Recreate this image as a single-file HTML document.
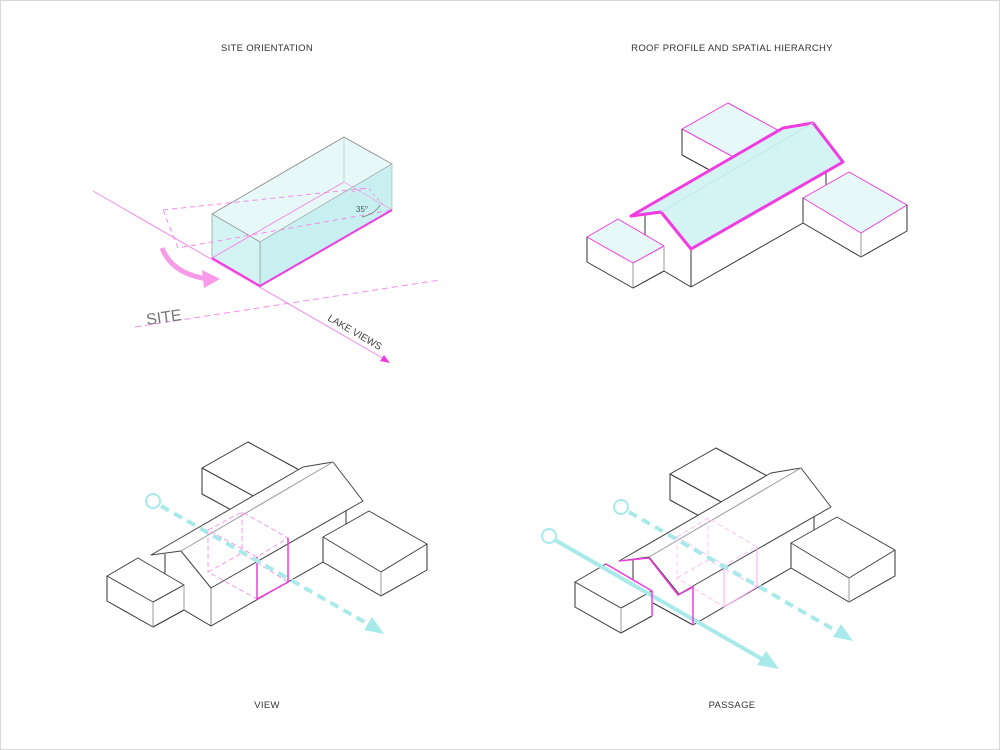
<!DOCTYPE html>
<html><head><meta charset="utf-8"><style>
html,body{margin:0;padding:0;background:#fff}
svg{display:block}
text{font-family:"Liberation Sans",sans-serif}
</style></head><body>
<svg width="1000" height="750" viewBox="0 0 1000 750" xmlns="http://www.w3.org/2000/svg">
<rect x="0.5" y="0.5" width="999" height="749" fill="#fff" stroke="#d8d8d8"/>
<g font-size="9.5" fill="#333" text-anchor="middle" letter-spacing="0.3">
<text x="267" y="51">SITE ORIENTATION</text>
<text x="732" y="51">ROOF PROFILE AND SPATIAL HIERARCHY</text>
<text x="267" y="708">VIEW</text>
<text x="732" y="708">PASSAGE</text>
</g>

<!-- TOP LEFT -->
<g>
<line x1="93" y1="191" x2="386" y2="360" stroke="#f58ce6" stroke-width="1"/>
<polygon points="390,363 380,361 384,355" fill="#f03ce0"/>
<line x1="135" y1="327" x2="440" y2="280" stroke="#f58ce6" stroke-width="1" stroke-dasharray="6,4"/>
<polygon points="212,214 344,137 392,164 260,242" fill="#e6f8f8" stroke="#888" stroke-width="0.8"/>
<polygon points="260,242 392,164 392,210 260,286" fill="#c8f0f0" stroke="#aaa" stroke-width="0.6"/>
<polygon points="212,214 260,242 260,286 212,258" fill="#d4f4f4" stroke="#888" stroke-width="0.6"/>
<line x1="344" y1="137" x2="344" y2="182" stroke="#bbb" stroke-width="0.6"/>
<line x1="212" y1="258" x2="344" y2="182" stroke="#f58ce6" stroke-width="1"/>
<line x1="344" y1="182" x2="392" y2="210" stroke="#f58ce6" stroke-width="0.6"/>
<polyline points="163,210 368,188" fill="none" stroke="#f58ce6" stroke-dasharray="5,4"/>
<polyline points="163,210 178,248 392,210" fill="none" stroke="#f58ce6" stroke-dasharray="5,4"/>
<polyline points="352,192 368,188 384,206" fill="none" stroke="#f58ce6" stroke-dasharray="3,3" stroke-width="0.8"/>
<polyline points="212,258 260,286 392,210" fill="none" stroke="#f03ce0" stroke-width="2"/>
<path d="M362,217 Q375,214 380,205" fill="none" stroke="#666" stroke-width="0.7"/>
<text x="356" y="212" font-size="8" fill="#555">35°</text>
<path d="M162,248 Q172,274 208,279" fill="none" stroke="#f79be8" stroke-width="5"/>
<polygon points="220,279 202,270 204,288" fill="#f79be8"/>
<text x="147" y="325" font-size="16" fill="#777" transform="rotate(-8 147 325)">SITE</text>
<text x="327" y="320" font-size="10" fill="#444" transform="rotate(30 327 320)">LAKE VIEWS</text>
</g>

<!-- TOP RIGHT -->
<g stroke-linejoin="round">
<polygon points="682,129 737,159 737,185 682,155" fill="#fff"/>
<polygon points="682,129 728,103 783,133 737,159" fill="#e6f8f8" stroke="#f03ce0" stroke-width="1"/>
<polyline points="682,129 682,155 737,185" fill="none" stroke="#333"/>
<polygon points="645,214 661,212 691,249 691,287 645,262" fill="#fff"/>
<polygon points="691,249 826,172 826,245 691,287" fill="#fff"/>
<line x1="645" y1="215" x2="645" y2="240" stroke="#333"/>
<line x1="691" y1="249" x2="691" y2="287" stroke="#333"/>
<line x1="691" y1="287" x2="803" y2="223" stroke="#333"/>
<line x1="826" y1="172" x2="826" y2="186" stroke="#333"/>
<polygon points="631,216 661,212 691,249 843,162 813,123 783,128" fill="#d4f4f4" stroke="#f03ce0" stroke-width="3"/>
<line x1="661" y1="212" x2="813" y2="123" stroke="#bfeaea"/>
<polygon points="587,237 633,263 633,288 587,262" fill="#fff"/>
<polygon points="633,263 664,246 664,271 633,288" fill="#fff"/>
<polygon points="587,237 618,219 664,246 633,263" fill="#e6f8f8" stroke="#f03ce0"/>
<polyline points="587,237 587,262 633,288 664,271 691,287" fill="none" stroke="#333"/>
<line x1="633" y1="263" x2="633" y2="288" stroke="#999"/>
<line x1="664" y1="246" x2="664" y2="271" stroke="#999"/>
<polygon points="803,198 861,233 861,257 803,223" fill="#fff"/>
<polygon points="861,233 907,205 907,231 861,257" fill="#fff"/>
<polygon points="803,198 849,172 907,205 861,233" fill="#e6f8f8" stroke="#f03ce0"/>
<polyline points="803,198 803,223 861,257 907,231 907,205" fill="none" stroke="#333"/>
<line x1="861" y1="233" x2="861" y2="257" stroke="#999"/>
</g>

<!-- BOTTOM LEFT -->
<g transform="translate(-480,339)" stroke-linejoin="round">
<polygon points="682,129 737,159 737,185 682,155" fill="#fff"/>
<polygon points="682,129 728,103 783,133 737,159" fill="#fff" stroke="#333"/>
<polyline points="682,129 682,155 737,185" fill="none" stroke="#333"/>
<polygon points="645,214 661,212 691,249 691,287 645,262" fill="#fff"/>
<polygon points="691,249 826,172 826,245 691,287" fill="#fff"/>
<line x1="645" y1="215" x2="645" y2="240" stroke="#333"/>
<line x1="691" y1="249" x2="691" y2="287" stroke="#888"/>
<line x1="691" y1="287" x2="803" y2="223" stroke="#333"/>
<line x1="826" y1="172" x2="826" y2="186" stroke="#333"/>
<polygon points="631,216 661,212 691,249 843,162 813,123 783,128" fill="#fff" stroke="#444"/>
<line x1="661" y1="212" x2="813" y2="123" stroke="#999"/>
<polygon points="587,237 633,263 633,288 587,262" fill="#fff"/>
<polygon points="633,263 664,246 664,271 633,288" fill="#fff"/>
<polygon points="587,237 618,219 664,246 633,263" fill="#fff" stroke="#444"/>
<polyline points="587,237 587,262 633,288 664,271 691,287" fill="none" stroke="#333"/>
<line x1="633" y1="263" x2="633" y2="288" stroke="#999"/>
<line x1="664" y1="246" x2="664" y2="271" stroke="#999"/>
<polygon points="803,198 861,233 861,257 803,223" fill="#fff"/>
<polygon points="861,233 907,205 907,231 861,257" fill="#fff"/>
<polygon points="803,198 849,172 907,205 861,233" fill="#fff" stroke="#444"/>
<polyline points="803,198 803,223 861,257 907,231 907,205" fill="none" stroke="#333"/>
<line x1="861" y1="233" x2="861" y2="257" stroke="#999"/>
</g>
<g fill="none">
<g stroke="#f79be8" stroke-dasharray="5,3">
<polygon points="208,530 242,512 288,538 257,557"/>
<polygon points="208,572 242,553 288,582 257,599"/>
<line x1="208" y1="530" x2="208" y2="572"/>
<line x1="242" y1="512" x2="242" y2="553"/>
</g>
<polyline points="257,557 257,599 288,582 288,538" stroke="#f03ce0" stroke-width="1.5"/>
<circle cx="153" cy="501" r="7" stroke="#a8eaea" stroke-width="2"/>
<line x1="161" y1="506" x2="368" y2="624" stroke="#a8eaea" stroke-width="4" stroke-dasharray="9,6"/>
</g>
<polygon points="384,634 364,630 372,617" fill="#a8eaea"/>

<!-- BOTTOM RIGHT -->
<g transform="translate(-12,345)" stroke-linejoin="round">
<polygon points="682,129 737,159 737,185 682,155" fill="#fff"/>
<polygon points="682,129 728,103 783,133 737,159" fill="#fff" stroke="#333"/>
<polyline points="682,129 682,155 737,185" fill="none" stroke="#333"/>
<polygon points="645,214 661,212 691,249 691,287 645,262" fill="#fff"/>
<polygon points="691,249 826,172 826,245 705,282 691,287" fill="#fff"/>
<line x1="645" y1="215" x2="645" y2="240" stroke="#333"/>
<line x1="705" y1="280" x2="803" y2="223" stroke="#333"/>
<line x1="826" y1="172" x2="826" y2="186" stroke="#333"/>
<polygon points="631,216 661,212 691,249 843,162 813,123 783,128" fill="#fff" stroke="#444"/>
<line x1="661" y1="212" x2="813" y2="123" stroke="#999"/>
<polygon points="803,198 861,233 861,257 803,223" fill="#fff"/>
<polygon points="861,233 907,205 907,231 861,257" fill="#fff"/>
<polygon points="803,198 849,172 907,205 861,233" fill="#fff" stroke="#444"/>
<polyline points="803,198 803,223 861,257 907,231 907,205" fill="none" stroke="#333"/>
<line x1="861" y1="233" x2="861" y2="257" stroke="#999"/>
</g>
<line x1="653" y1="603" x2="693" y2="625" stroke="#333"/>
<g fill="none">
<g stroke="#fbc4f2" stroke-dasharray="5,3">
<polygon points="677,537 708,518 757,547 724,565"/>
<polygon points="677,578 708,560 757,587 724,607"/>
<line x1="677" y1="537" x2="677" y2="578"/>
<line x1="708" y1="518" x2="708" y2="560"/>
</g>
<polyline points="724,565 724,607 757,587 757,547" stroke="#f9a8ee" stroke-width="1"/>
<circle cx="621" cy="507" r="7" stroke="#a8eaea" stroke-width="2"/>
<line x1="629" y1="512" x2="838" y2="632" stroke="#a8eaea" stroke-width="4" stroke-dasharray="9,6"/>
</g>
<polygon points="853,641 833,637 841,624" fill="#a8eaea"/>
<g transform="translate(-12,345)">
<polygon points="587,237 633,263 633,288 587,262" fill="#fff"/>
<polygon points="633,263 664,246 664,271 633,288" fill="#fff"/>
<polygon points="587,237 618,219 664,246 633,263" fill="#fff" stroke="#444"/>
<polyline points="587,237 587,262 633,288 664,271" fill="none" stroke="#333"/>
<line x1="633" y1="263" x2="633" y2="288" stroke="#999"/>
</g>
<g fill="none">
<circle cx="549" cy="536" r="7" stroke="#a8eaea" stroke-width="2"/>
<line x1="555" y1="540" x2="762" y2="659" stroke="#a8eaea" stroke-width="4"/>
<polyline points="606,564 652,591 652,616" stroke="#f03ce0" stroke-width="1.5"/>
<polyline points="619,561 649,558 678,595 693,587 693,625" stroke="#f03ce0" stroke-width="1.5"/>
</g>
<polygon points="779,669 757,665 766,651" fill="#a8eaea"/>
</svg>
</body></html>
